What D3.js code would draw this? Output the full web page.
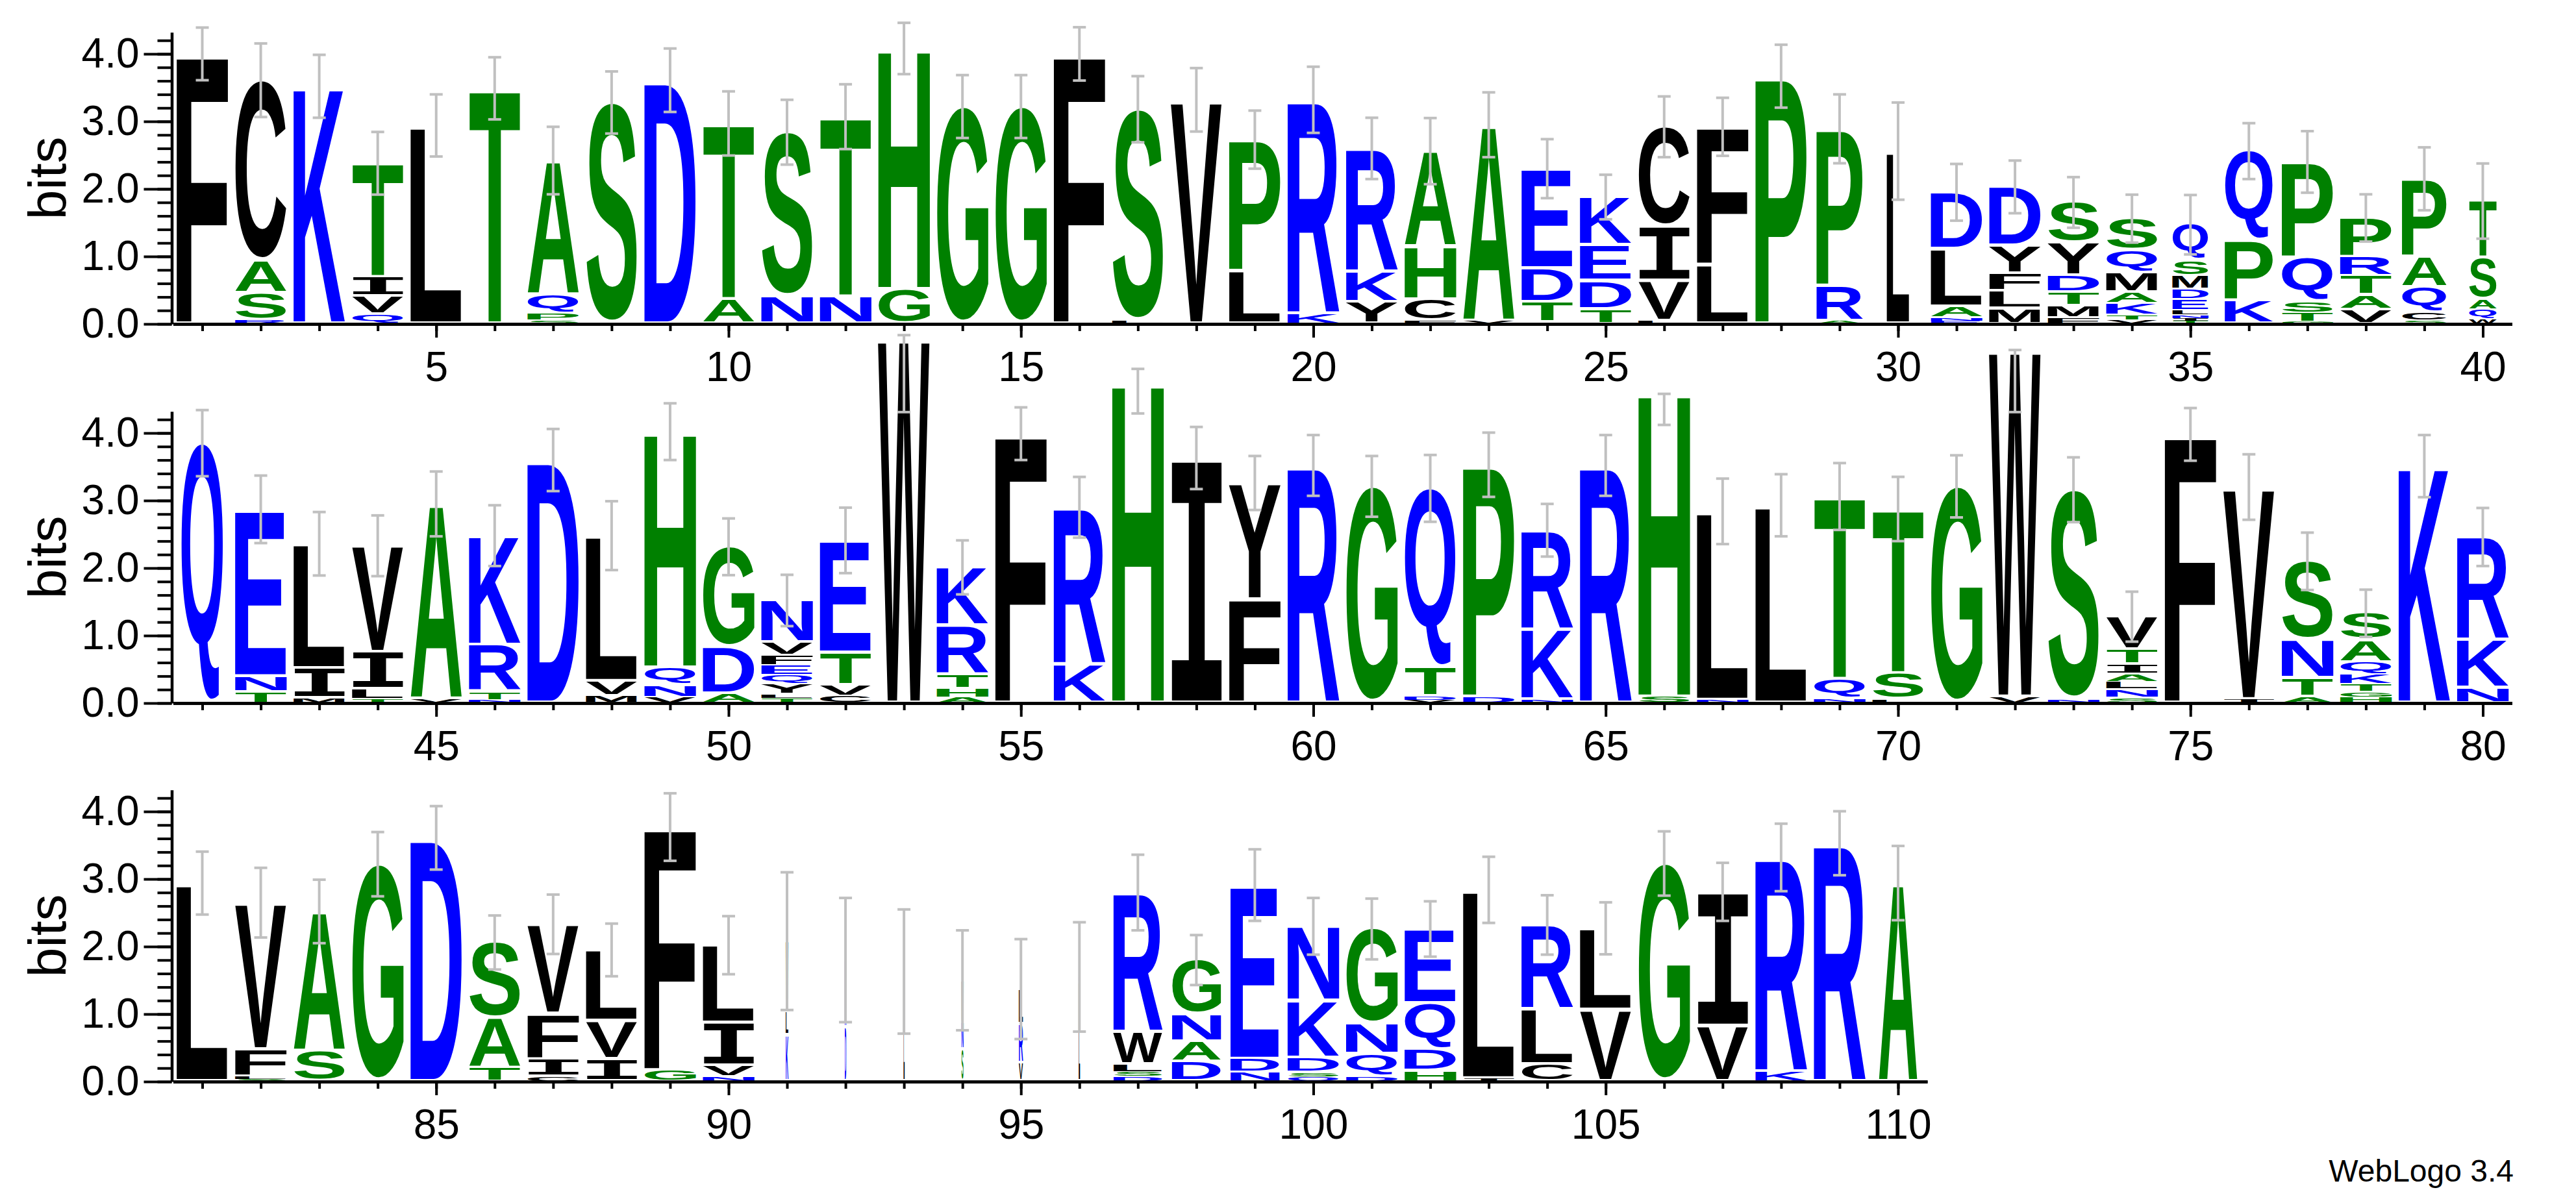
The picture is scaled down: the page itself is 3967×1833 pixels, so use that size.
<!DOCTYPE html>
<html>
<head>
<meta charset="utf-8">
<script src="https://cdn.jsdelivr.net/npm/d3@7"></script>
<style>body{margin:0;background:#fff}</style>
</head>
<body>
<svg id="chart" width="3967" height="1833"></svg>
<script>
// stacks: letters from bottom to top, letter + bits
var stacks1 = [
  "F4.00", "R0.05 S0.40 A0.48 C2.68", "K3.52", "Q0.13 V0.27 I0.29 T1.69", "L2.94",
  "T3.49", "S0.05 P0.095 Q0.285 A1.99", "S3.28", "D3.61", "A0.36 T2.61",
  "N0.40 S2.44", "N0.40 T2.67", "G0.51 H3.57", "G3.22", "G3.22",
  "F4.00", "L0.04 S3.14", "V3.32", "L0.78 P1.95", "K0.15 R3.17",
  "Y0.32 K0.45 R1.83", "F0.04 C0.32 H0.78 A1.42", "V0.04 A2.91", "L0.02 T0.30 D0.50 E1.48", "T0.21 D0.42 E0.53 K0.72",
  "L0.04 V0.59 I0.81 C1.48", "L0.87 F2.05", "P3.67", "A0.04 R0.52 P2.33", "L2.56",
  "E0.04 N0.05 A0.16 L0.86 D0.84", "M0.22 L0.26 F0.26 Y0.41 D0.88", "F0.09 M0.18 T0.19 D0.25 Y0.49 S0.60",
  "V0.06 T0.07 K0.17 A0.16 M0.29 Q0.335 S0.475", "T0.04 I0.04 N0.05 L0.07 E0.16 D0.145 M0.20 S0.23 Q0.535",
  "K0.34 P0.89 Q1.33", "G0.03 T0.125 S0.17 Q0.65 P1.425", "V0.21 A0.21 T0.285 R0.285 P0.58",
  "S0.045 C0.125 Q0.37 A0.45 P1.16", "W0.065 Q0.145 A0.15 S0.61 T0.85"
];
var stacks2 = [
  "Q3.85", "T0.16 N0.23 E2.48", "M0.07 I0.44 L1.85", "T0.06 L0.14 I0.55 V1.58", "V0.06 A2.89",
  "N0.04 T0.12 R0.70 K1.62", "D3.60", "M0.10 V0.22 L2.16", "V0.08 N0.18 Q0.26 H3.50", "A0.135 D0.69 G1.49",
  "T0.07 L0.065 Y0.15 Q0.125 E0.14 F0.15 V0.19 N0.63", "C0.10 V0.16 T0.48 E1.67", "W5.44",
  "A0.08 H0.125 T0.21 R0.725 K0.87", "F3.99", "K0.57 R2.33", "H4.76", "I3.63", "F1.53 Y1.73", "R3.52",
  "G3.21", "V0.04 D0.06 T0.42 Q2.66", "D0.09 P3.44", "N0.05 K1.04 R1.47", "R3.52",
  "S0.09 H4.52", "N0.04 L2.80", "L2.93", "N0.06 Q0.29 T2.71", "L0.05 S0.385 T2.44",
  "G3.21", "V0.09 W5.18", "N0.05 S3.11", "S0.08 N0.12 L0.11 A0.12 I0.14 T0.22 V0.49", "F3.98",
  "I0.05 V3.15", "A0.09 T0.275 N0.57 S1.165", "H0.08 G0.08 T0.12 K0.14 Q0.18 A0.33 S0.40", "K3.51", "N0.22 K0.71 R1.53"
];
var stacks3 = [
  "L2.94", "S0.03 L0.04 F0.40 V2.18", "S0.45 A2.07", "G3.22", "D3.61",
  "T0.20 A0.735 S1.125", "C0.07 I0.26 F0.67 V1.33", "I0.33 V0.56 L1.06", "G0.16 F3.61", "N0.07 V0.16 I0.64 L1.15",
  "K0.68 L0.35 W1.05", "D0.80 N1.00", "L1.63", "S0.47 N0.40 W0.63", "V0.27 R0.58 L0.52",
  "L1.48 N0.07", "D0.07 S0.07 L0.11 W0.48 R2.07", "D0.29 A0.30 N0.40 G0.81", "N0.13 D0.20 E2.58", "Q0.07 S0.06 D0.22 K0.84 N1.11",
  "D0.07 Q0.33 N0.45 G1.41", "H0.15 D0.32 Q0.68 E1.11", "I0.04 L2.80", "C0.25 L0.82 R1.25", "V1.06 L1.21",
  "G3.23", "V0.82 I1.99", "K0.145 R3.175", "R3.53", "A2.94"
];

// error bar half widths (bits)
var err1 = [0.39, 0.545, 0.466, 0.464, 0.46, 0.46, 0.50, 0.46, 0.47, 0.475,
            0.48, 0.48, 0.38, 0.466, 0.466, 0.395, 0.49, 0.47, 0.43, 0.49,
            0.454, 0.49, 0.48, 0.437, 0.33, 0.45, 0.43, 0.466, 0.51, 0.72,
            0.42, 0.39, 0.375, 0.355, 0.44, 0.414, 0.456, 0.35, 0.466, 0.557];
var err2 = [0.49, 0.50, 0.47, 0.45, 0.48, 0.45, 0.46, 0.51, 0.42, 0.42,
            0.38, 0.485, 0.55, 0.40, 0.39, 0.45, 0.45, 0.46, 0.40, 0.45,
            0.45, 0.495, 0.476, 0.39, 0.45, 0.45, 0.485, 0.46, 0.495, 0.476,
            0.46, 0.45, 0.48, 0.37, 0.39, 0.485, 0.425, 0.35, 0.46, 0.43];
var err3 = [0.466, 0.516, 0.47, 0.476, 0.47, 0.40, 0.44, 0.39, 0.50, 0.43,
            1.02, 0.92, 0.92, 0.74, 0.74, 0.81, 0.56, 0.37, 0.53, 0.42,
            0.45, 0.41, 0.49, 0.44, 0.385, 0.476, 0.43, 0.50, 0.474, 0.55];

// columns drawn thinner than a full stack (gaps in the alignment)
var thinCols  = [29, 30, 35, 36, 39, 40, 41, 91, 92, 93, 94, 95, 96, 97, 98, 99, 110];
var thinWidth = [0.9, 0.44, 0.7, 0.94, 0.87, 0.54, 0.82, 0.05, 0.03, 0.02, 0.04, 0.08, 0.025, 0.95, 0.95, 0.95, 0.75];

// columns whose bars reach past the axis: error bar ends (bits)
var tallCols = [53, 57, 66, 72];
var tallErrLo = [4.31, 4.29, 4.12, 4.31];
var tallErrHi = [5.45, 4.95, 4.58, 5.23];

var yTicks = [0, 1, 2, 3, 4];
var yMinorTicks = d3.range(0, 4.3, 0.2);
var rowStart = [1, 41, 81];
var rowLen = [40, 40, 30];

var blueSet = "KDQREN", greenSet = "TASHGP";

var svg = d3.select("#chart"),
    width = +svg.attr("width"),
    height = +svg.attr("height");

var stacks = stacks1.concat(stacks2, stacks3).map(function (s) {
    return s.split(" ").map(function (t) { return [t[0], +t.slice(1)]; });
});
var errs = err1.concat(err2, err3);

var baselines = [499, 1083, 1666];
var bitPx = 104, yMax = 4.32, step = 90.05, left = 266.5;
var glyphW = 80;
var axisFont = "'Liberation Sans', Arial, Helvetica, sans-serif";

function colorOf(ch) {
    if (blueSet.indexOf(ch) >= 0) return "#0000ff";
    if (greenSet.indexOf(ch) >= 0) return "#008000";
    return "#000000";
}

// ink bounds of each glyph, so the letter fills its box
var FS = 1000;
var ctx = document.createElement("canvas").getContext("2d");
var boxes = {};
function fontFor(ch) { return ch === "I" ? "'Liberation Mono'" : "'Liberation Sans'"; }
function inkBox(ch) {
    if (boxes[ch]) return boxes[ch];
    ctx.font = "bold " + FS + "px " + fontFor(ch);
    var m = ctx.measureText(ch);
    boxes[ch] = { l: -m.actualBoundingBoxLeft, r: m.actualBoundingBoxRight,
                  t: -m.actualBoundingBoxAscent, b: m.actualBoundingBoxDescent };
    return boxes[ch];
}

rowStart.forEach(function (start, ri) {
    var n = rowLen[ri], base = baselines[ri];
    var g = svg.append("g");

    var x = d3.scaleLinear().domain([start - 0.5, start + n - 0.5]).range([left, left + n * step]);
    var y = d3.scaleLinear().domain([0, yMax]).range([base, base - yMax * bitPx]);
    var ax = left - 2;

    // letters
    d3.range(start, start + n).forEach(function (pos) {
        var stack = stacks[pos - 1];
        var ti = thinCols.indexOf(pos);
        var w = glyphW * (ti >= 0 ? thinWidth[ti] : 1);
        var cx = x(pos), cum = 0;
        stack.forEach(function (d) {
            var y0 = y(cum), y1 = y(cum + d[1]);
            cum += d[1];
            var h = y0 - y1;
            if (h < 0.5) return;
            var gap = Math.min(4, h * 0.15);
            var bb = inkBox(d[0]);
            var sx = w / (bb.r - bb.l), sy = (h - gap) / (bb.b - bb.t);
            g.append("text")
                .attr("transform", "translate(" + (cx - w / 2 - bb.l * sx) + "," + (y1 - bb.t * sy) + ") scale(" + sx + "," + sy + ")")
                .attr("font-family", fontFor(d[0]))
                .attr("font-weight", "bold")
                .attr("font-size", FS)
                .attr("fill", colorOf(d[0]))
                .text(d[0]);
        });
    });

    // error bars
    d3.range(start, start + n).forEach(function (pos) {
        var total = d3.sum(stacks[pos - 1], function (d) { return d[1]; });
        var lo = total - errs[pos - 1], hi = total + errs[pos - 1];
        var ti = tallCols.indexOf(pos);
        if (ti >= 0) { lo = tallErrLo[ti]; hi = tallErrHi[ti]; }
        var cx = x(pos);
        var eb = g.append("g").attr("stroke", "#c0c0c0").attr("stroke-width", 4);
        eb.append("line").attr("x1", cx).attr("x2", cx).attr("y1", y(lo)).attr("y2", y(hi));
        eb.append("line").attr("x1", cx - 10).attr("x2", cx + 10).attr("y1", y(lo)).attr("y2", y(lo));
        eb.append("line").attr("x1", cx - 10).attr("x2", cx + 10).attr("y1", y(hi)).attr("y2", y(hi));
    });

    // y axis
    g.append("g")
        .attr("transform", "translate(" + ax + ",0)")
        .call(d3.axisLeft(y).tickValues(yMinorTicks).tickSize(22).tickSizeOuter(0).tickFormat(""))
        .call(function (s) { s.select(".domain").remove(); });
    g.append("g")
        .attr("transform", "translate(" + ax + ",0)")
        .call(d3.axisLeft(y).tickValues(yTicks).tickSize(43).tickSizeOuter(0).tickPadding(7).tickFormat(d3.format(".1f")))
        .attr("font-size", 64)
        .attr("font-family", axisFont);

    // x axis
    g.append("g")
        .attr("transform", "translate(0," + base + ")")
        .call(d3.axisBottom(x).tickValues(d3.range(start, start + n)).tickSize(11).tickSizeOuter(0).tickFormat(""));
    g.append("g")
        .attr("transform", "translate(0," + base + ")")
        .call(d3.axisBottom(x).tickValues(d3.range(start, start + n).filter(function (d) { return d % 5 === 0; }))
            .tickSize(21).tickSizeOuter(0).tickPadding(22).tickFormat(d3.format("d")))
        .attr("font-size", 64)
        .attr("font-family", axisFont);

    g.selectAll(".tick line").attr("stroke", "#000").attr("stroke-width", 4);
    g.selectAll(".domain").attr("stroke", "#000").attr("stroke-width", 4.5);
    g.selectAll(".tick text").attr("fill", "#000");

    g.append("text")
        .attr("transform", "translate(101," + y(yMax / 2) + ") rotate(-90)")
        .attr("text-anchor", "middle")
        .attr("font-family", axisFont)
        .attr("font-size", 82)
        .text("bits");
});

svg.append("text")
    .attr("x", 3871)
    .attr("y", 1820)
    .attr("text-anchor", "end")
    .attr("font-family", axisFont)
    .attr("font-size", 48)
    .text("WebLogo 3.4");
</script>
</body>
</html>
